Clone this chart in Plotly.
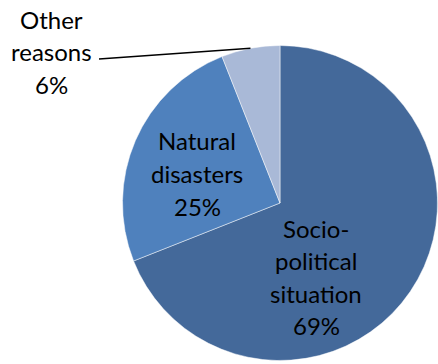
import math
import plotly.graph_objects as go

# Reasons and their shares (percent)
labels = ["Socio-political situation", "Natural disasters", "Other reasons"]
values = [69, 25, 6]
label_lines = [["Socio-", "political", "situation"], ["Natural", "disasters"], ["Other", "reasons"]]
colors = ["#44699A", "#4F81BD", "#A9B9D7"]

W, H = 438, 364
cx, cy, r = 280, 203, 157.5   # pie centre and radius in pixels
FONT = "Lato"
FS = 24
LINE = 32.5                   # pixel spacing between label lines

fig = go.Figure(go.Pie(
    labels=labels,
    values=values,
    sort=False,
    direction="clockwise",
    rotation=0,
    marker=dict(colors=colors, line=dict(color="rgba(255,255,255,0.6)", width=0.8)),
    textinfo="none",
    hoverinfo="label+percent",
    showlegend=False,
    domain=dict(x=[(cx - r) / W, (cx + r) / W], y=[(H - cy - r) / H, (H - cy + r) / H]),
))


def px_to_paper(x, y):
    return x / W, 1 - y / H


def slice_mid_angle(i):
    total = sum(values)
    start = sum(values[:i]) / total
    return (start + values[i] / total / 2) * 2 * math.pi  # clockwise from 12 o'clock


# Label block centres in pixels (x centre, y of the first line)
label_pos = {0: (316, 227), 1: (197, 140), 2: (51, 18)}
for i, (x, y0) in label_pos.items():
    lines = label_lines[i] + [f"{values[i]}%"]
    for k, line in enumerate(lines):
        px, py = px_to_paper(x, y0 + k * LINE + 1)
        fig.add_annotation(x=px, y=py, xref="paper", yref="paper", text=line,
                           showarrow=False, font=dict(family=FONT, size=FS, color="#000000"),
                           align="center", xanchor="center", yanchor="middle")

# Leader line for the small slice
a = slice_mid_angle(2)
ex, ey = cx + r * math.sin(a), cy - r * math.cos(a)
x0, y0 = px_to_paper(99, 59)
x1, y1 = px_to_paper(ex, ey)
fig.add_shape(type="line", xref="paper", yref="paper", x0=x0, y0=y0, x1=x1, y1=y1,
              line=dict(color="#000000", width=1.5))

fig.update_layout(
    width=W, height=H,
    margin=dict(l=0, r=0, t=0, b=0),
    paper_bgcolor="#FFFFFF",
    plot_bgcolor="#FFFFFF",
    font=dict(family=FONT, size=FS),
)

fig.write_html("out.html")
